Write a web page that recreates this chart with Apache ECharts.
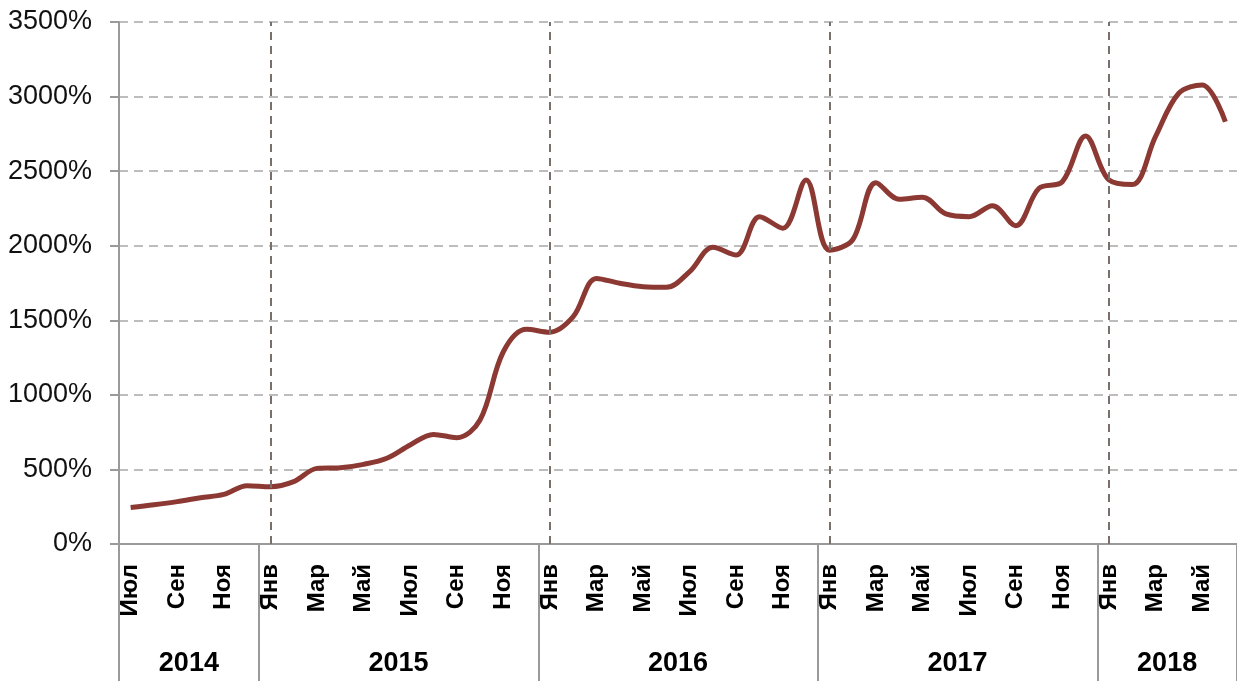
<!DOCTYPE html>
<html>
<head>
<meta charset="utf-8">
<script src="https://cdn.jsdelivr.net/npm/echarts@6/dist/echarts.min.js"></script>
<style>
  html, body { margin: 0; padding: 0; background: #fff; }
  #lineChart { width: 1237px; height: 681px; }
</style>
</head>
<body>
<div id="lineChart"></div>
<script>
// месяцы, по годам
var months = [
  'Июл','Авг','Сен','Окт','Ноя','Дек',
  'Янв','Фев','Мар','Апр','Май','Июн','Июл','Авг','Сен','Окт','Ноя','Дек',
  'Янв','Фев','Мар','Апр','Май','Июн','Июл','Авг','Сен','Окт','Ноя','Дек',
  'Янв','Фев','Мар','Апр','Май','Июн','Июл','Авг','Сен','Окт','Ноя','Дек',
  'Янв','Фев','Мар','Апр','Май','Июн'
];
var years = ['2014', '2015', '2016', '2017', '2018'];
var monthsInYear = [6, 12, 12, 12, 6];

// рост, %
var growth = [
  245, 263, 284, 310, 333, 391,
  384, 418, 507, 512, 534, 575, 664, 735, 713, 831, 1289, 1440,
  1420, 1524, 1781, 1748, 1725, 1721, 1826, 1989, 1938, 2194, 2117, 2441,
  1970, 2040, 2423, 2311, 2325, 2213, 2195, 2268, 2134, 2385, 2429, 2736,
  2441, 2410, 2731, 3022, 3078, 2831
];

var yTicks = [0, 500, 1000, 1500, 2000, 2500, 3000, 3500];

// границы годов и середины для подписей
var bounds = [0], centers = [];
monthsInYear.forEach(function (n, i) {
  centers.push(bounds[i] + n / 2);
  bounds.push(bounds[i] + n);
});
var janLines = [];
months.forEach(function (m, i) { if (m === 'Янв') janLines.push({ xAxis: i }); });

var chart = echarts.init(document.getElementById('lineChart'));
chart.setOption({
  animation: false,
  grid: { left: 119, right: 0, top: 22, bottom: 137, outerBoundsMode: 'none', containLabel: false },
  xAxis: [{
    type: 'category',
    data: months,
    boundaryGap: true,
    axisLine: { lineStyle: { color: '#9a9a9a', width: 2 } },
    axisTick: { show: false },
    axisLabel: {
      interval: 1,
      rotate: 90,
      margin: 20,
      color: '#000',
      fontWeight: 'bold',
      fontSize: 24,
      fontFamily: 'Liberation Sans, Arial, sans-serif'
    }
  }, {
    type: 'value',
    position: 'bottom',
    min: 0,
    max: growth.length,
    axisLine: { show: false },
    splitLine: { show: false },
    axisTick: {
      show: true,
      customValues: bounds,
      length: 140,
      lineStyle: { color: '#9a9a9a', width: 2 }
    },
    axisLabel: {
      customValues: centers,
      margin: 106,
      color: '#000',
      fontWeight: 'bold',
      fontSize: 27,
      fontFamily: 'Liberation Sans, Arial, sans-serif',
      formatter: function (v) { return years[centers.indexOf(v)]; }
    }
  }],
  yAxis: {
    type: 'value',
    min: 0,
    max: 3500,
    interval: 500,
    axisLine: { show: true, lineStyle: { color: '#9a9a9a', width: 2 } },
    axisTick: { show: true, length: 9, lineStyle: { color: '#9a9a9a', width: 2 } },
    splitLine: { show: true, lineStyle: { color: '#bdbdbd', width: 2, type: [9, 6] } },
    axisLabel: {
      margin: 27,
      color: '#111',
      fontSize: 27,
      fontFamily: 'Liberation Sans, Arial, sans-serif',
      formatter: function (v) { return yTicks.indexOf(v) >= 0 ? v + '%' : ''; }
    }
  },
  series: [{
    type: 'line',
    data: growth,
    smooth: 0.35,
    symbol: 'none',
    lineStyle: { color: '#8c3934', width: 5 },
    markLine: {
      silent: true,
      symbol: 'none',
      label: { show: false },
      lineStyle: { color: '#7a706b', width: 2, type: [8, 6] },
      data: janLines
    }
  }]
});
</script>
</body>
</html>
